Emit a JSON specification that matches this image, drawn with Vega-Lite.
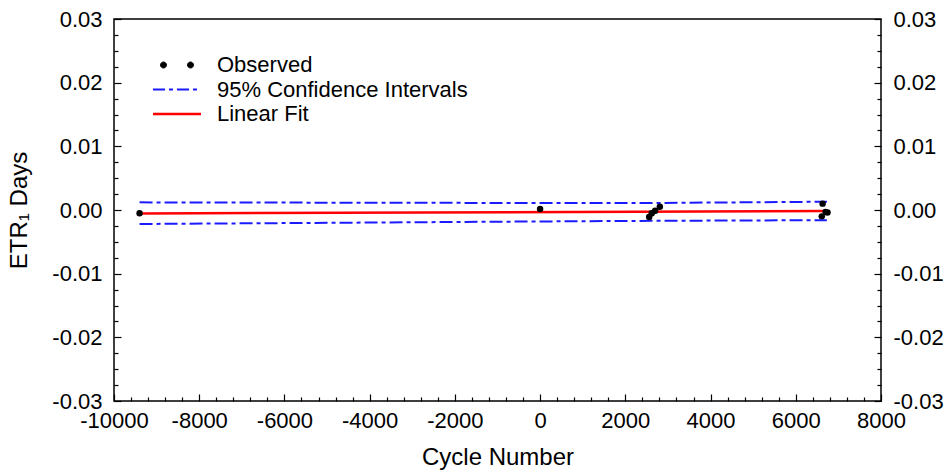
{
  "$schema": "https://vega.github.io/schema/vega-lite/v6.json",
  "width": 767,
  "height": 382,
  "autosize": "none",
  "padding": {"left": 114, "top": 19, "right": 65, "bottom": 69},
  "background": "white",
  "config": {
    "view": {"stroke": "black", "strokeWidth": 1.5},
    "axis": {
      "labelFont": "Liberation Sans",
      "labelFontSize": 22,
      "labelColor": "black",
      "titleFont": "Liberation Sans",
      "titleFontSize": 24,
      "titleFontWeight": "normal",
      "titleColor": "black",
      "tickColor": "black",
      "tickWidth": 1.2,
      "domain": false,
      "grid": false
    },
    "legend": {
      "labelFont": "Liberation Sans",
      "labelFontSize": 22,
      "labelColor": "black",
      "labelLimit": 0
    }
  },
  "datasets": {
    "lines": [
      {"series": "95% Confidence Intervals", "part": "upper", "cycle": -9400, "etr": 0.0012},
      {"series": "95% Confidence Intervals", "part": "upper", "cycle": 0, "etr": 0.0011},
      {"series": "95% Confidence Intervals", "part": "upper", "cycle": 2600, "etr": 0.0011},
      {"series": "95% Confidence Intervals", "part": "upper", "cycle": 6730, "etr": 0.0013},
      {"series": "95% Confidence Intervals", "part": "lower", "cycle": -9400, "etr": -0.0022},
      {"series": "95% Confidence Intervals", "part": "lower", "cycle": 0, "etr": -0.0018},
      {"series": "95% Confidence Intervals", "part": "lower", "cycle": 2600, "etr": -0.0017},
      {"series": "95% Confidence Intervals", "part": "lower", "cycle": 6730, "etr": -0.0016},
      {"series": "Linear Fit", "part": "fit", "cycle": -9400, "etr": -0.00055},
      {"series": "Linear Fit", "part": "fit", "cycle": 6730, "etr": -0.00015}
    ],
    "points": [
      {"series": "Observed", "cycle": -9400, "etr": -0.0005},
      {"series": "Observed", "cycle": 0, "etr": 0.00015},
      {"series": "Observed", "cycle": 2560, "etr": -0.0011},
      {"series": "Observed", "cycle": 2620, "etr": -0.0005},
      {"series": "Observed", "cycle": 2700, "etr": -0.0001},
      {"series": "Observed", "cycle": 2810, "etr": 0.0005},
      {"series": "Observed", "cycle": 6630, "etr": 0.0010},
      {"series": "Observed", "cycle": 6700, "etr": -0.0003},
      {"series": "Observed", "cycle": 6745, "etr": -0.0004},
      {"series": "Observed", "cycle": 6610, "etr": -0.0010}
    ]
  },
  "layer": [
    {
      "data": {"name": "lines"},
      "transform": [{"filter": "datum.part === 'upper'"}],
      "mark": {"type": "line", "strokeWidth": 2, "strokeDash": [13, 4, 4, 4]},
      "encoding": {
        "x": {
          "field": "cycle", "type": "quantitative",
          "scale": {"domain": [-10000, 8000], "nice": false, "zero": false},
          "axis": {
            "orient": "bottom", "title": "Cycle Number", "titlePadding": 14,
            "values": [-10000, -8000, -6000, -4000, -2000, 0, 2000, 4000, 6000, 8000],
            "tickSize": -7, "labelPadding": 16,
            "format": "d", "labelExpr": "replace(datum.label, '−', '-')",
            "labelFlush": false, "labelOverlap": false
          }
        },
        "y": {
          "field": "etr", "type": "quantitative",
          "scale": {"domain": [-0.03, 0.03], "nice": false, "zero": false},
          "axis": {
            "orient": "left", "title": "ETR₁ Days", "titlePadding": 20,
            "values": [-0.03, -0.02, -0.01, 0, 0.01, 0.02, 0.03],
            "tickSize": -7, "labelPadding": 19,
            "format": ".2f", "labelExpr": "replace(datum.label, '−', '-')",
            "labelFlush": false, "labelOverlap": false
          }
        },
        "color": {
          "field": "series", "type": "nominal",
          "scale": {"domain": ["Observed", "95% Confidence Intervals", "Linear Fit"], "range": ["black", "#1a1aff", "#ff0000"]},
          "legend": {
            "title": null,
            "orient": "none",
            "legendX": 52,
            "legendY": 35,
            "padding": 0,
            "rowPadding": 2.5,
            "symbolSize": 400,
            "symbolStrokeWidth": 2,
            "labelOffset": 29,
            "encode": {
              "symbols": {
                "update": {
                  "shape": {"signal": "datum.value === 'Observed' ? 'M-1.65,0A0.3,0.3 0 1,0 -1.05,0A0.3,0.3 0 1,0 -1.65,0Z M1.05,0A0.3,0.3 0 1,0 1.65,0A0.3,0.3 0 1,0 1.05,0Z' : 'M-2.4,0H2.4'"},
                  "fill": {"signal": "datum.value === 'Observed' ? 'black' : 'transparent'"},
                  "stroke": {"signal": "scale('color', datum.value)"},
                  "strokeDash": {"signal": "datum.value === '95% Confidence Intervals' ? [12, 4, 4, 4] : [1, 0]"},
                  "strokeWidth": {"signal": "datum.value === 'Linear Fit' ? 2.5 : datum.value === 'Observed' ? 1 : 2"},
                  "size": {"value": 400},
                  "opacity": {"value": 1}
                }
              }
            }
          }
        }
      }
    },
    {
      "data": {"name": "lines"},
      "transform": [{"filter": "datum.part === 'lower'"}],
      "mark": {"type": "line", "strokeWidth": 2, "strokeDash": [13, 4, 4, 4]},
      "encoding": {
        "x": {
          "field": "cycle", "type": "quantitative",
          "axis": {
            "orient": "bottom", "title": null, "labels": false,
            "values": [-9600, -9200, -8800, -8400, -7600, -7200, -6800, -6400, -5600, -5200, -4800, -4400, -3600, -3200, -2800, -2400, -1600, -1200, -800, -400, 400, 800, 1200, 1600, 2400, 2800, 3200, 3600, 4400, 4800, 5200, 5600, 6400, 6800, 7200, 7600],
            "tickSize": -4
          }
        },
        "y": {
          "field": "etr", "type": "quantitative",
          "axis": {
            "orient": "left", "title": null, "labels": false,
            "values": [-0.0275, -0.025, -0.0225, -0.0175, -0.015, -0.0125, -0.0075, -0.005, -0.0025, 0.0025, 0.005, 0.0075, 0.0125, 0.015, 0.0175, 0.0225, 0.025, 0.0275],
            "tickSize": -4
          }
        },
        "color": {"field": "series", "type": "nominal"}
      }
    },
    {
      "data": {"name": "lines"},
      "transform": [{"filter": "datum.part === 'fit'"}],
      "mark": {"type": "line", "strokeWidth": 2.5},
      "encoding": {
        "x": {"field": "cycle", "type": "quantitative", "axis": null},
        "y": {
          "field": "etr", "type": "quantitative",
          "axis": {
            "orient": "right", "title": null,
            "values": [-0.03, -0.02, -0.01, 0, 0.01, 0.02, 0.03],
            "tickSize": -7, "labelPadding": 19,
            "format": ".2f", "labelExpr": "replace(datum.label, '−', '-')",
            "labelFlush": false, "labelOverlap": false
          }
        },
        "color": {"field": "series", "type": "nominal"}
      }
    },
    {
      "data": {"name": "points"},
      "mark": {"type": "point", "filled": true, "size": 42, "opacity": 1},
      "encoding": {
        "x": {"field": "cycle", "type": "quantitative", "axis": null},
        "y": {
          "field": "etr", "type": "quantitative",
          "axis": {
            "orient": "right", "title": null, "labels": false,
            "values": [-0.0275, -0.025, -0.0225, -0.0175, -0.015, -0.0125, -0.0075, -0.005, -0.0025, 0.0025, 0.005, 0.0075, 0.0125, 0.015, 0.0175, 0.0225, 0.025, 0.0275],
            "tickSize": -4
          }
        },
        "color": {"field": "series", "type": "nominal"}
      }
    }
  ],
  "resolve": {"axis": {"x": "independent", "y": "independent"}}
}
